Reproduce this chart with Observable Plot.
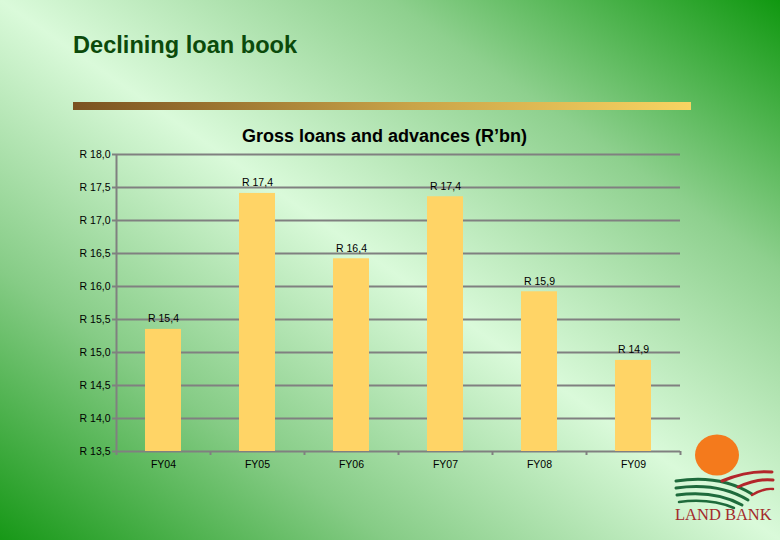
<!DOCTYPE html>
<html>
<head>
<meta charset="utf-8">
<script src="https://cdn.jsdelivr.net/npm/d3@7"></script>
<script src="https://cdn.jsdelivr.net/npm/@observablehq/plot@0.6"></script>
<style>
html,body{margin:0;padding:0;}
#slide{position:relative;width:780px;height:540px;overflow:hidden;font-family:"Liberation Sans",Arial,sans-serif;
  background:linear-gradient(to top right,#179817 0%,#86cc86 25%,#dafada 50%,#8ed08e 75%,#109810 100%);}
#title{position:absolute;left:73px;top:33px;font-size:23.6px;line-height:24px;font-weight:bold;color:#0b4a0b;white-space:nowrap;}
#rule{position:absolute;left:73px;top:102px;width:618px;height:8px;background:linear-gradient(to right,#7a5220,#c9a448 55%,#f8d462);}
#ctitle{position:absolute;left:242px;top:127px;font-size:18px;line-height:18px;font-weight:bold;color:#000;white-space:nowrap;}
#chart{position:absolute;left:0;top:140px;}
#logo{position:absolute;left:660px;top:425px;}
</style>
</head>
<body>
<div id="slide">
  <div id="title">Declining loan book</div>
  <div id="rule"></div>
  <div id="ctitle">Gross loans and advances (R’bn)</div>
  <div id="chart"></div>
  <svg id="logo" width="120" height="110" viewBox="660 425 120 110">
    <ellipse cx="717" cy="455" rx="22" ry="20.5" fill="#f47a1c"/>
    <g fill="none" stroke-linecap="round">
      <path d="M676,481 Q720,474 752,494" stroke="#1e6b3c" stroke-width="3"/>
      <path d="M676,488 Q718,482 748,500" stroke="#1e6b3c" stroke-width="3"/>
      <path d="M677,495 Q715,490 742,505" stroke="#1e6b3c" stroke-width="3"/>
      <path d="M679,502 Q710,498 734,508" stroke="#1e6b3c" stroke-width="2.5"/>
      <path d="M722,481 Q748,470 772,472" stroke="#b3262b" stroke-width="3"/>
      <path d="M738,487 Q758,478 773,480" stroke="#b3262b" stroke-width="3"/>
      <path d="M752,495 Q764,488 773,489" stroke="#b3262b" stroke-width="2.5"/>
    </g>
    <text x="675" y="520" font-family="'Liberation Serif','Times New Roman',serif" font-size="16.5" fill="#a32a2c">LAND BANK</text>
  </svg>
</div>
<script>
// Data
const years = ["FY04", "FY05", "FY06", "FY07", "FY08", "FY09"];
const values = [15.35, 17.41, 16.42, 17.36, 15.92, 14.88];
const valueLabels = ["R 15,4", "R 17,4", "R 16,4", "R 17,4", "R 15,9", "R 14,9"];
const yTicks = [13.5, 14.0, 14.5, 15.0, 15.5, 16.0, 16.5, 17.0, 17.5, 18.0];
const yTickLabels = ["R 13,5", "R 14,0", "R 14,5", "R 15,0", "R 15,5", "R 16,0", "R 16,5", "R 17,0", "R 17,5", "R 18,0"];

const data = years.map((fy, i) => ({fy, value: values[i], label: valueLabels[i]}));
const yMin = yTicks[0], yMax = yTicks[yTicks.length - 1];

const W = 780, H = 340, mL = 116, mR = 100, mT = 14, mB = 29;
const half = (W - mL - mR) / years.length / 2;
const grid = "#808080";

const chart = Plot.plot({
  width: W, height: H,
  marginLeft: mL, marginRight: mR, marginTop: mT, marginBottom: mB,
  style: {background: "transparent", color: "#000", fontFamily: "'Liberation Sans', Arial, sans-serif", overflow: "visible"},
  x: {domain: years, paddingInner: 0.62, paddingOuter: 0.31, label: null},
  y: {domain: [yMin, yMax], label: null},
  marks: [
    Plot.ruleY(yTicks, {stroke: grid, strokeWidth: 2}),
    Plot.barY(data, {x: "fy", y1: yMin, y2: "value", fill: "#ffd466"}),
    Plot.ruleX([years[0]], {dx: -half, y1: yMin, y2: yMax, stroke: grid, strokeWidth: 2}),
    Plot.ruleX(years, {dx: -half, y1: yMin, y2: yMin, insetBottom: -4, stroke: grid, strokeWidth: 2}),
    Plot.ruleX([years[years.length - 1]], {dx: half, y1: yMin, y2: yMin, insetBottom: -4, stroke: grid, strokeWidth: 2}),
    Plot.text(data, {x: "fy", y: "value", text: "label", dy: -10.5, fontSize: 10.5, fill: "#000"}),
    Plot.axisY({ticks: yTicks, tickFormat: (d) => yTickLabels[yTicks.indexOf(d)], tickSize: 4, tickPadding: 2, stroke: grid, strokeWidth: 2, fill: "#000", fontSize: 10.5, label: null}),
    Plot.axisX({tickSize: 0, tickPadding: 9, fill: "#000", fontSize: 10.5, label: null})
  ]
});
document.getElementById("chart").appendChild(chart);
</script>
</body>
</html>
